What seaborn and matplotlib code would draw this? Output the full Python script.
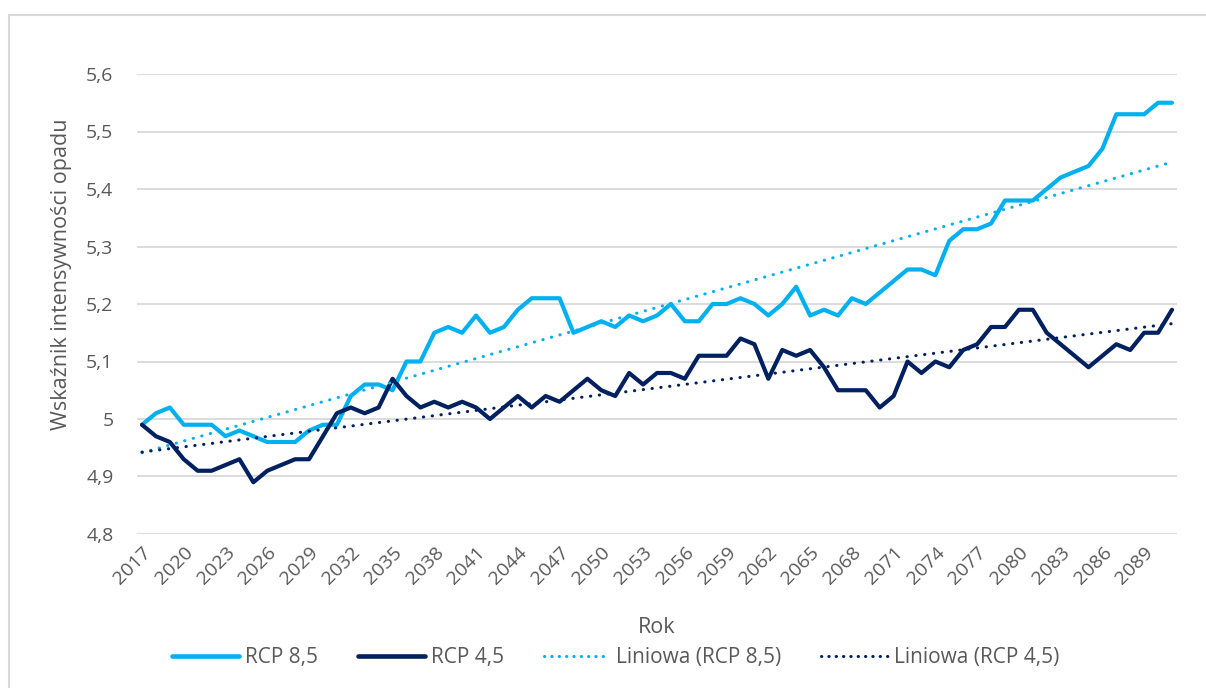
import matplotlib
matplotlib.use("Agg")
import matplotlib.pyplot as plt
import matplotlib.lines as mlines
import numpy as np
import pandas as pd
import seaborn as sns

## data (2017-2091)
years = list(range(2017, 2092))

rcp85 = [4.99, 5.01, 5.02, 4.99, 4.99, 4.99, 4.97, 4.98, 4.97, 4.96,
         4.96, 4.96, 4.98, 4.99, 4.99, 5.04, 5.06, 5.06, 5.05, 5.10,
         5.10, 5.15, 5.16, 5.15, 5.18, 5.15, 5.16, 5.19, 5.21, 5.21,
         5.21, 5.15, 5.16, 5.17, 5.16, 5.18, 5.17, 5.18, 5.20, 5.17,
         5.17, 5.20, 5.20, 5.21, 5.20, 5.18, 5.20, 5.23, 5.18, 5.19,
         5.18, 5.21, 5.20, 5.22, 5.24, 5.26, 5.26, 5.25, 5.31, 5.33,
         5.33, 5.34, 5.38, 5.38, 5.38, 5.40, 5.42, 5.43, 5.44, 5.47,
         5.53, 5.53, 5.53, 5.55, 5.55]

rcp45 = [4.99, 4.97, 4.96, 4.93, 4.91, 4.91, 4.92, 4.93, 4.89, 4.91,
         4.92, 4.93, 4.93, 4.97, 5.01, 5.02, 5.01, 5.02, 5.07, 5.04,
         5.02, 5.03, 5.02, 5.03, 5.02, 5.00, 5.02, 5.04, 5.02, 5.04,
         5.03, 5.05, 5.07, 5.05, 5.04, 5.08, 5.06, 5.08, 5.08, 5.07,
         5.11, 5.11, 5.11, 5.14, 5.13, 5.07, 5.12, 5.11, 5.12, 5.09,
         5.05, 5.05, 5.05, 5.02, 5.04, 5.10, 5.08, 5.10, 5.09, 5.12,
         5.13, 5.16, 5.16, 5.19, 5.19, 5.15, 5.13, 5.11, 5.09, 5.11,
         5.13, 5.12, 5.15, 5.15, 5.19]

series_names = ['RCP 8,5', 'RCP 4,5']
trend_names = ['Liniowa (RCP 8,5)', 'Liniowa (RCP 4,5)']
colors = ['#00B0F0', '#002060']

yticks = [4.8, 4.9, 5.0, 5.1, 5.2, 5.3, 5.4, 5.5, 5.6]
ytick_labels = ['4,8', '4,9', '5', '5,1', '5,2', '5,3', '5,4', '5,5', '5,6']
xticks = list(range(2017, 2090, 3))

df = pd.DataFrame({'Rok': years, 'RCP 8,5': rcp85, 'RCP 4,5': rcp45})

sns.set_style("white")
plt.rcParams['font.family'] = ['Open Sans', 'DejaVu Sans']
grey = '#595959'

fig = plt.figure(figsize=(12.06, 6.88), dpi=100)
ax = fig.add_axes([137/1206, 1-534/688, 1040/1206, 460/688])

handles = []
for name, c in zip(series_names, colors):
    sns.lineplot(x='Rok', y=name, data=df, ax=ax, color=c, linewidth=3,
                 solid_capstyle='round', solid_joinstyle='round')
    handles.append(mlines.Line2D([], [], color=c, linewidth=3.3, solid_capstyle='round', label=name))

## Excel-like linear trendlines
for name, tname, c in zip(series_names, trend_names, colors):
    sns.regplot(x='Rok', y=name, data=df, ax=ax, scatter=False, ci=None, truncate=True,
                line_kws={'color': c, 'linewidth': 2.2, 'linestyle': (0, (0.1, 2.8)),
                          'dash_capstyle': 'round'})
    handles.append(mlines.Line2D([], [], color=c, linewidth=2.2, linestyle=(0, (0.1, 2.3)),
                                 dash_capstyle='round', label=tname))

ax.set_ylim(4.8, 5.6)
ax.set_xlim(2017 - 0.36, 2091 + 0.36)
ax.set_yticks(yticks)
ax.set_yticklabels(ytick_labels)
ax.set_xticks(xticks)
ax.set_xticklabels([str(x) for x in xticks], rotation=45, ha='right', rotation_mode='anchor')
ax.grid(axis='y', color='#D9D9D9', linewidth=1.3)
ax.set_axisbelow(True)
for s in ax.spines.values():
    s.set_visible(False)
ax.tick_params(axis='both', length=0, labelsize=14, colors=grey)
ax.tick_params(axis='y', pad=17)
ax.tick_params(axis='x', pad=7)

ax.set_xlabel('Rok', fontsize=15.5, color=grey)
ax.set_ylabel('Wskaźnik intensywności opadu', fontsize=15.5, color=grey)
ax.xaxis.set_label_coords(0.5, -0.18)
ax.yaxis.set_label_coords(-0.0625, 0.565)

fig.legend(handles=handles, loc='center', bbox_to_anchor=(616/1206, 1-658/688), ncol=4,
           frameon=False, fontsize=15, handlelength=3.2, handletextpad=0.3,
           columnspacing=1.9, labelcolor=grey)

## chart border (Excel chart area)
fig.add_artist(mlines.Line2D([9/1206, 9/1206], [0, 1-15/688], color='#D9D9D9', linewidth=1.5))
fig.add_artist(mlines.Line2D([9/1206, 1], [1-15/688, 1-15/688], color='#D9D9D9', linewidth=1.5))

plt.savefig('out.png', dpi=100)
